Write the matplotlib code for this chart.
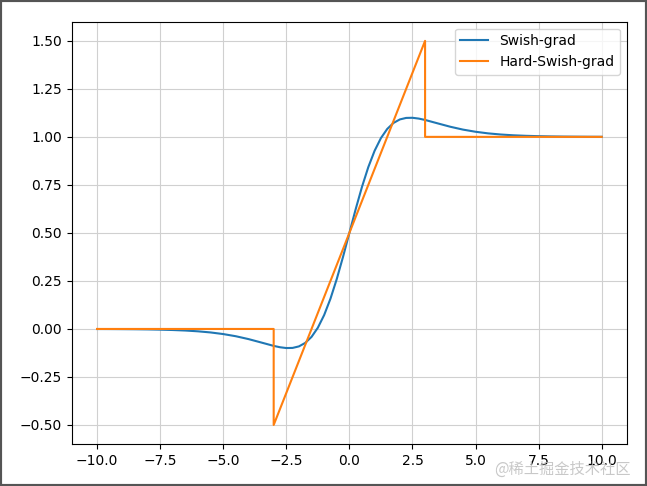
import matplotlib
matplotlib.use("Agg")
import matplotlib.pyplot as plt
from matplotlib.patches import Rectangle

# Swish-grad curve, values
swish_x = [-10, -9.5, -9, -8.5, -8, -7.5, -7, -6.5, -6, -5.5, -5, -4.5, -4, -3.5, -3,
           -2.75, -2.5, -2.25, -2, -1.75, -1.5, -1.25, -1, -0.75, -0.5, -0.25, 0,
           0.25, 0.5, 0.75, 1, 1.25, 1.5, 1.75, 2, 2.25, 2.5, 2.75, 3, 3.5, 4, 4.5,
           5, 5.5, 6, 6.5, 7, 7.5, 8, 8.5, 9, 9.5, 10]
swish_y = [-0.0004, -0.0006, -0.0010, -0.0015, -0.0023, -0.0036, -0.0055, -0.0082,
           -0.0123, -0.0182, -0.0266, -0.0379, -0.0527, -0.0703, -0.0881,
           -0.0952, -0.0994, -0.0987, -0.0908, -0.0727, -0.0413, 0.0063, 0.0723,
           0.1574, 0.2600, 0.3763, 0.5,
           0.6237, 0.7400, 0.8426, 0.9277, 0.9937, 1.0413, 1.0727, 1.0908, 1.0987,
           1.0994, 1.0952, 1.0881, 1.0703, 1.0527, 1.0379,
           1.0266, 1.0182, 1.0123, 1.0082, 1.0055, 1.0036, 1.0023, 1.0015, 1.0010,
           1.0006, 1.0004]

# Hard-Swish-grad (piecewise)
hard_x = [-10, -3, -3, 3, 3, 10]
hard_y = [0, 0, -0.5, 1.5, 1, 1]

fig = plt.figure(figsize=(6.47, 4.86), dpi=100)
ax = fig.add_axes([0.111, 0.086, 0.858, 0.8695])
ax.plot(swish_x, swish_y, label="Swish-grad")
ax.plot(hard_x, hard_y, label="Hard-Swish-grad")
ax.grid(True, color="#d0d0d0", linewidth=0.8)
ax.set_axisbelow(True)
ax.legend(loc="upper right")

fig.patches.append(Rectangle((0, 0), 1, 1, transform=fig.transFigure,
                             fill=False, edgecolor="#555555", linewidth=3))
fig.text(0.975, 0.035, "@稀土掘金技术社区", ha="right", va="center",
         fontsize=11, color="#bbbbbb", alpha=0.8,
         family=["Noto Sans CJK SC", "DejaVu Sans"])

fig.savefig("out.png", dpi=100)
